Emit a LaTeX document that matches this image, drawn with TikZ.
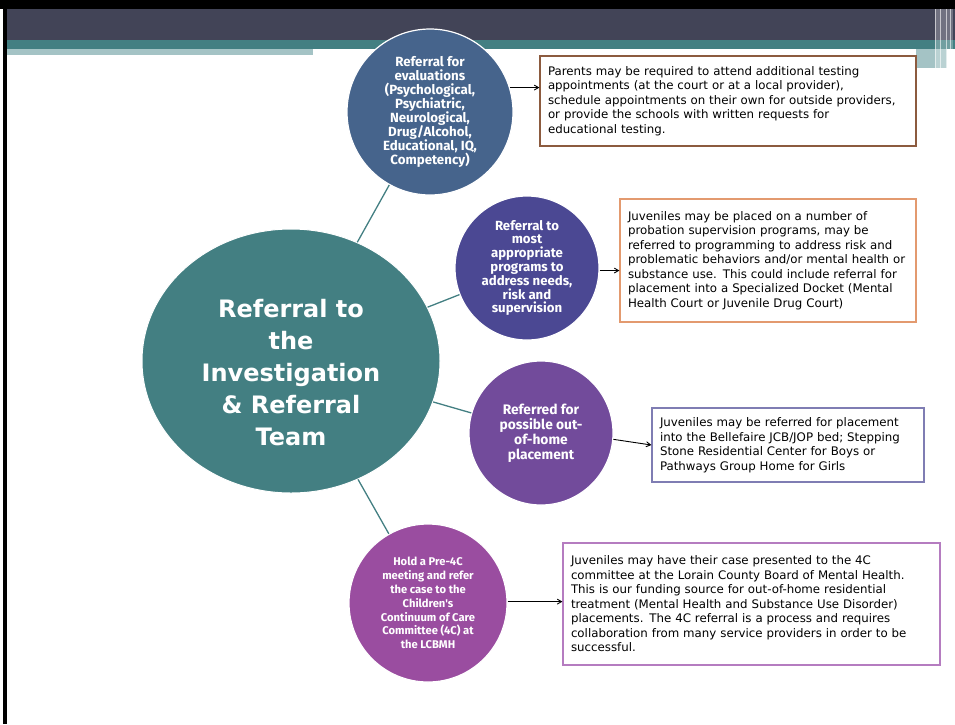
\documentclass[tikz,border=0pt]{standalone}
\usepackage{fontspec}
\usepackage{xcolor}
\usepackage{tikz}
\usetikzlibrary{shapes.geometric, arrows, positioning}
\newfontfamily\notefont{DejaVu Sans}
\newfontfamily\bubblefont{Fira Sans}
\definecolor{headdark}{HTML}{424457}
\definecolor{irteal}{HTML}{437F82}
\definecolor{headlight}{HTML}{A4C3C5}
\definecolor{evalblue}{HTML}{46648C}
\definecolor{progindigo}{HTML}{4B4893}
\definecolor{placepurple}{HTML}{724B9B}
\definecolor{fourcmagenta}{HTML}{9A4DA0}
\definecolor{notebrown}{HTML}{8C5B3F}
\definecolor{noteorange}{HTML}{E39A6F}
\definecolor{noteslate}{HTML}{7F7DB3}
\definecolor{notepink}{HTML}{B57CC0}
\tikzstyle{hub} = [ellipse, minimum width=298pt, minimum height=264pt, inner sep=0pt, fill=irteal, draw=white, line width=1pt]
\tikzstyle{hubtext} = [text=white, align=center, font=\notefont\bfseries\fontsize{24}{32}\selectfont]
\tikzstyle{bubble} = [circle, inner sep=0pt, text=white, align=center, draw=white, line width=1.2pt]
\tikzstyle{note} = [rectangle, draw, line width=1.2pt, fill=white, align=left, inner xsep=8pt, inner ysep=0pt, font=\notefont\fontsize{11.8}{14.5}\selectfont]
\tikzstyle{spoke} = [draw=irteal, line width=1.3pt]
\tikzstyle{arrow} = [line width=0.9pt,->,>=angle 60]

\begin{document}
\begin{tikzpicture}[x=1pt, y=-1pt]
        \useasboundingbox (0,0) rectangle (955,724);
        % Slide header
        \fill[black] (0,0) rectangle (955,9);
        \fill[black] (3,0) rectangle (7,724);
        \fill[headdark] (7,9) rectangle (955,40);
        \fill[irteal] (7,40) rectangle (955,49);
        \fill[headlight] (7,49) rectangle (313,55);
        \fill[headlight] (916,49) rectangle (947,68);
        \fill[white, opacity=0.25] (935,9) rectangle (953,72);
        \foreach \sx in {935,940,946,950}
            \draw[white, opacity=0.6, line width=0.8pt] (\sx,9) -- (\sx,72);

        % Nodes
        \node (team) [hub] at (291,361) {};
        \node (teamtxt) [hubtext] at (291,373) {Referral to\\the\\Investigation\\\& Referral\\Team};
        \node (evals) [bubble, fill=evalblue, minimum size=166pt, font=\bubblefont\bfseries\fontsize{13.3}{14}\selectfont] at (430,112) {Referral for\\evaluations\\(Psychological,\\Psychiatric,\\Neurological,\\Drug/Alcohol,\\Educational, IQ,\\Competency)};
        \node (progs) [bubble, fill=progindigo, minimum size=144pt, font=\bubblefont\bfseries\fontsize{13.2}{13.8}\selectfont] at (527,268) {Referral to\\most\\appropriate\\programs to\\address needs,\\risk and\\supervision};
        \node (place) [bubble, fill=placepurple, minimum size=144pt, font=\bubblefont\bfseries\fontsize{13.8}{15}\selectfont] at (541,433) {Referred for\\possible out-\\of-home\\placement};
        \node (fourc) [bubble, fill=fourcmagenta, minimum size=158pt, font=\bubblefont\bfseries\fontsize{11.2}{13.9}\selectfont] at (428,603) {Hold a Pre-4C\\meeting and refer\\the case to the\\Children's\\Continuum of Care\\Committee (4C) at\\the LCBMH};

        \node (evalnote) [note, draw=notebrown, minimum width=376pt, minimum height=90pt, text width=360pt] at (728,101) {Parents may be required to attend additional testing\\appointments (at the court or at a local provider),\\schedule appointments on their own for outside providers,\\or provide the schools with written requests for\\educational testing.};
        \node (prognote) [note, draw=noteorange, minimum width=296pt, minimum height=123pt, text width=280pt] at (768,260.5) {Juveniles may be placed on a number of\\probation supervision programs, may be\\referred to programming to address risk and\\problematic behaviors and/or mental health or\\substance use.  This could include referral for\\placement into a Specialized Docket (Mental\\Health Court or Juvenile Drug Court)};
        \node (placenote) [note, draw=noteslate, minimum width=272pt, minimum height=74pt, text width=256pt] at (788,445) {Juveniles may be referred for placement\\into the Bellefaire JCB/JOP bed; Stepping\\Stone Residential Center for Boys or\\Pathways Group Home for Girls};
        \node (fourcnote) [note, draw=notepink, minimum width=377pt, minimum height=122pt, text width=361pt] at (751.5,604) {Juveniles may have their case presented to the 4C\\committee at the Lorain County Board of Mental Health.\\This is our funding source for out-of-home residential\\treatment (Mental Health and Substance Use Disorder)\\placements.  The 4C referral is a process and requires\\collaboration from many service providers in order to be\\successful.};

        % Spokes
        \draw [spoke] (team) -- (evals);
        \draw [spoke] (team) -- (progs);
        \draw [spoke] (team) -- (place);
        \draw [spoke] (team) -- (fourc);

        % Arrows
        \draw [arrow] (evals.17) -- (evals.17 -| evalnote.west);
        \draw [arrow] (progs.-2) -- (progs.-2 -| prognote.west);
        \draw [arrow] (place.-5) -- (placenote.west);
        \draw [arrow] (fourc.1) -- (fourc.1 -| fourcnote.west);
    \end{tikzpicture}
\end{document}
